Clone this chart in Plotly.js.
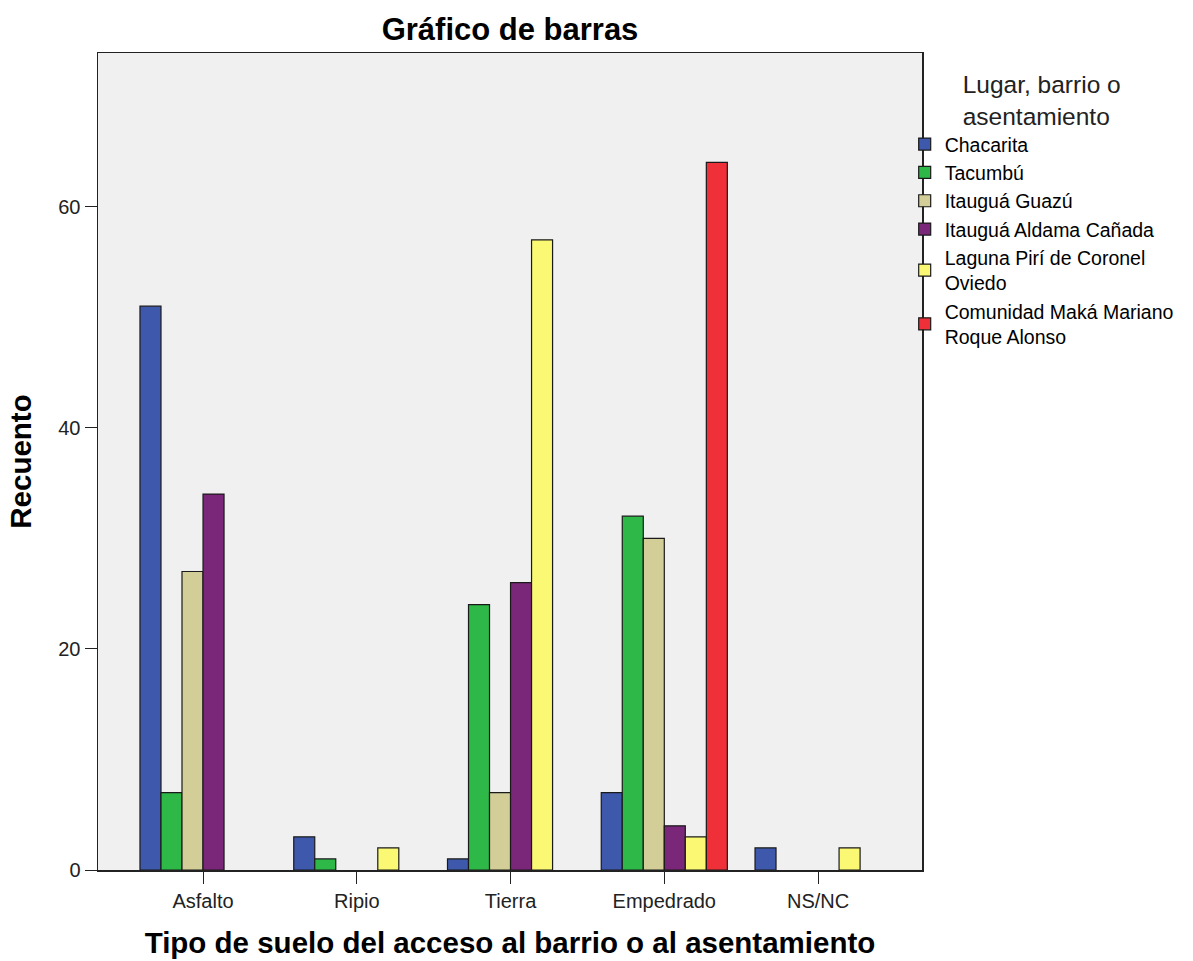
<!DOCTYPE html>
<html>
<head>
<meta charset="utf-8">
<script src="https://cdn.plot.ly/plotly-3.0.1.min.js"></script>
<style>html,body{margin:0;padding:0;background:#fff;}#chart{width:1193px;height:961px;}</style>
</head>
<body>
<div id="chart"></div>
<script>
const categories = ["Asfalto", "Ripio", "Tierra", "Empedrado", "NS/NC"];
const seriesNames = [
  "Chacarita",
  "Tacumbú",
  "Itauguá Guazú",
  "Itauguá Aldama Cañada",
  "Laguna Pirí de Coronel<br>Oviedo",
  "Comunidad Maká Mariano<br>Roque Alonso"
];
const chacarita = [51, 3, 1, 7, 2];
const tacumbu = [7, 1, 24, 32, 0];
const itauguaGuazu = [27, 0, 7, 30, 0];
const itauguaAldama = [34, 0, 26, 4, 0];
const lagunaPiri = [0, 2, 57, 3, 2];
const comunidadMaka = [0, 0, 0, 64, 0];
const seriesValues = [chacarita, tacumbu, itauguaGuazu, itauguaAldama, lagunaPiri, comunidadMaka];
const colors = ["#3e58ac", "#2eb848", "#d3ce97", "#7b2779", "#fbf873", "#ef3038"];

const FONT = "Liberation Sans, Arial, sans-serif";

// zero counts are not drawn as bars (no flat outline), but keep their slot in the group
const traces = seriesNames.map((name, i) => ({
  type: "bar",
  name: name,
  x: categories,
  y: seriesValues[i].map(v => (v === 0 ? null : v)),
  marker: { color: colors[i], line: { color: "#1a1a1a", width: 1.2 } },
  hoverinfo: "x+y+name"
}));

const layout = {
  width: 1193,
  height: 961,
  paper_bgcolor: "#ffffff",
  plot_bgcolor: "#f0f0f0",
  margin: { l: 98, r: 271, t: 53, b: 91 },
  barmode: "group",
  bargap: 0.18,
  bargroupgap: 0,
  title: {
    text: "<b>Gráfico de barras</b>",
    font: { family: FONT, size: 31, color: "#000" },
    x: 0.5, xref: "paper", xanchor: "center",
    y: 0.97, yref: "container", yanchor: "middle"
  },
  xaxis: {
    type: "category",
    range: [-0.683, 4.676],
    showline: true, linecolor: "#222", linewidth: 1.5, mirror: true,
    ticks: "outside", ticklen: 12, tickcolor: "#222", tickwidth: 1,
    tickfont: { family: FONT, size: 20, color: "#222" },
    showgrid: false, zeroline: false,
    title: {
      text: "<b>Tipo de suelo del acceso al barrio o al asentamiento</b>",
      font: { family: FONT, size: 29.5, color: "#000" },
      standoff: 22
    }
  },
  yaxis: {
    range: [0, 73.9],
    tickvals: [0, 20, 40, 60],
    showline: true, linecolor: "#222", linewidth: 1.5, mirror: true,
    ticks: "outside", ticklen: 12, tickcolor: "#222", tickwidth: 1,
    tickfont: { family: FONT, size: 20, color: "#222" },
    showgrid: false, zeroline: false,
    title: {
      text: "<b>Recuento</b>",
      font: { family: FONT, size: 29.5, color: "#000" },
      standoff: 18
    }
  },
  legend: {
    x: 0.979, xanchor: "left",
    y: 0.99, yanchor: "top",
    bgcolor: "rgba(0,0,0,0)",
    borderwidth: 0,
    font: { family: FONT, size: 19.5, color: "#000" },
    itemwidth: 30,
    tracegroupgap: 0,
    title: {
      text: "Lugar, barrio o<br>asentamiento",
      side: "top center",
      font: { family: FONT, size: 24.5, color: "#222" }
    }
  },
  showlegend: true
};

Plotly.newPlot("chart", traces, layout, { displayModeBar: false, staticPlot: true });
</script>
</body>
</html>
